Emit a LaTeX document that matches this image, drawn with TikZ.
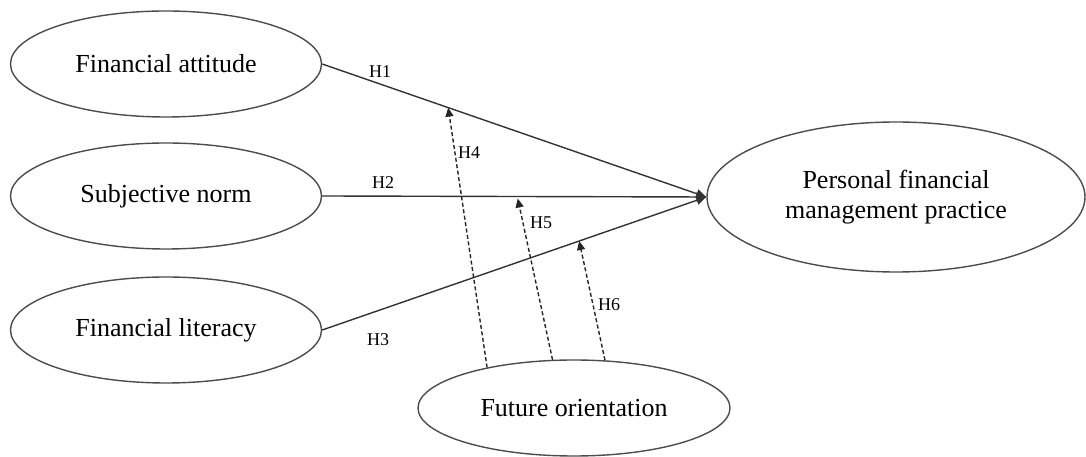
\documentclass[tikz,border=0pt]{standalone}
\usepackage{fontspec}
\setmainfont{Liberation Serif}
\usetikzlibrary{arrows.meta,calc,shapes.geometric}
\begin{document}
\begin{tikzpicture}[x=1pt,y=1pt,
  construct/.style={ellipse,draw=black!70,line width=1.4pt,inner sep=0pt,
    font=\fontsize{26}{30}\selectfont,align=center},
  causal/.style={draw=black!80,line width=1.4pt,-{Triangle[length=10pt,width=9pt]}},
  moder/.style={draw=black!85,line width=1.4pt,dash pattern=on 4pt off 2.5pt,
    -{Triangle[length=9pt,width=8pt]}},
  hlabel/.style={font=\fontsize{18}{20}\selectfont,inner sep=0pt}]
\useasboundingbox (0,0) rectangle (1086,457);
\node[construct,minimum width=311,minimum height=106] (fa) at (166,393) {Financial attitude};
\node[construct,minimum width=311,minimum height=106] (sn) at (166,261) {Subjective norm};
\node[construct,minimum width=311,minimum height=106] (fl) at (166,127) {Financial literacy};
\node[construct,minimum width=378,minimum height=150] (pf) at (896,260) {Personal financial\\management practice};
\node[construct,minimum width=312,minimum height=96] (fo) at (574,49) {Future orientation};
\draw[causal] (fa.east) -- (pf.west);
\draw[causal] (sn.east) -- (pf.west);
\draw[causal] (fl.east) -- (pf.west);
\coordinate (t4) at ($(fa.east)!0.328!(pf.west)$);
\coordinate (t5) at ($(sn.east)!0.509!(pf.west)+(0,-2)$);
\coordinate (t6) at ($(fl.east)!0.669!(pf.west)$);
\draw[moder] (fo.155) -- (t4);
\draw[moder] (fo.114) -- (t5);
\draw[moder] (fo.57.5) -- (t6);
\node[hlabel] (h1) at (380,385) {H1};
\node[hlabel] (h2) at (383,274) {H2};
\node[hlabel] (h3) at (378,117) {H3};
\node[hlabel] (h4) at (469,304) {H4};
\node[hlabel] (h5) at (541,234) {H5};
\node[hlabel] (h6) at (609,152) {H6};
\end{tikzpicture}
\end{document}
